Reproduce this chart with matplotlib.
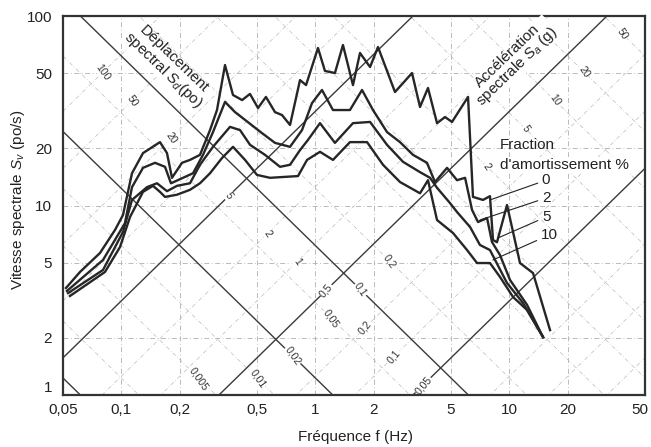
import numpy as np
import matplotlib
matplotlib.use("Agg")
import matplotlib.pyplot as plt
from matplotlib.transforms import ScaledTranslation

plt.rcParams['font.family'] = ['Liberation Sans', 'DejaVu Sans']
plt.rcParams['mathtext.fontset'] = 'custom'
plt.rcParams['mathtext.rm'] = 'Liberation Sans'
plt.rcParams['mathtext.it'] = 'Liberation Sans:italic'

# Spectral velocity curves (po/s), one per damping ratio.
freq_0 = [0.0518, 0.0612, 0.0776, 0.0927, 0.1019, 0.1134, 0.1292, 0.1581, 0.1718,
          0.1823, 0.2052, 0.2257, 0.2541, 0.2863, 0.311, 0.342, 0.376, 0.419, 0.460,
          0.506, 0.556, 0.619, 0.673, 0.740, 0.833, 0.895, 1.031, 1.120, 1.261, 1.387,
          1.562, 1.698, 1.913, 2.102, 2.572, 3.148, 3.461, 3.805, 4.236, 4.657, 5.06,
          6.12, 6.49, 7.31, 7.94, 8.23, 8.63, 9.72, 11.34, 13.24, 16.2]
sv_0 = [3.67, 4.46, 5.62, 7.43, 8.91, 14.8, 18.9, 21.6, 18.9,
        14.0, 16.8, 17.4, 18.5, 25.0, 31.9, 55.1, 38.3, 36.0, 38.8,
        32.7, 37.4, 31.1, 30.0, 26.6, 45.9, 43.2, 67.8, 51.3, 50.0, 70.3,
        43.2, 63.8, 53.8, 68.6, 39.7, 50.0, 33.1, 41.7, 27.2, 29.3, 27.6,
        37.4, 11.1, 10.7, 11.2, 6.58, 6.4, 10.06, 4.97, 4.40, 2.20]

freq_2 = [0.0524, 0.0804, 0.1043, 0.1134, 0.1292, 0.149, 0.1678, 0.1801, 0.2078,
          0.234, 0.2634, 0.2966, 0.342, 0.3852, 0.4338, 0.5306, 0.6192, 0.740, 0.853,
          0.9605, 1.081, 1.232, 1.507, 1.739, 1.981, 2.34, 2.73, 3.185, 3.76, 4.136,
          4.77, 5.37, 5.91, 6.42, 6.89, 7.67, 8.13, 8.94, 10.07, 12.33, 14.91]
sv_2 = [3.54, 5.16, 8.07, 12.5, 15.8, 16.8, 16.0, 13.1, 14.0,
        14.8, 18.5, 24.4, 35.2, 31.1, 28.3, 24.1, 21.4, 20.4, 25.0,
        34.7, 40.7, 31.9, 31.9, 40.7, 31.9, 24.4, 21.6, 18.5, 16.8, 13.3,
        15.8, 13.6, 14.0, 9.47, 8.18, 8.59, 6.42, 5.48, 4.05, 2.99, 2.02]

freq_5 = [0.0531, 0.0804, 0.1019, 0.1134, 0.1355, 0.1526, 0.1718, 0.1934, 0.2257,
          0.2541, 0.2966, 0.3629, 0.4088, 0.4604, 0.5499, 0.6571, 0.740, 0.8331,
          0.9161, 1.056, 1.261, 1.562, 1.913, 2.34, 2.829, 3.461, 3.898, 4.236, 4.94,
          5.37, 6.27, 7.05, 7.94, 9.72, 11.75, 14.91]
sv_5 = [3.45, 4.57, 7.25, 10.7, 12.5, 13.1, 11.9, 12.7, 13.1,
        16.4, 20.4, 26.0, 25.0, 20.9, 18.5, 16.0, 16.4, 19.6,
        22.2, 27.2, 21.4, 27.2, 27.6, 20.9, 17.0, 15.0, 14.0, 12.4, 10.3,
        9.24, 7.70, 6.19, 5.82, 3.90, 3.06, 2.02]

freq_10 = [0.0543, 0.0823, 0.0984, 0.1108, 0.1292, 0.1455, 0.1581, 0.1678, 0.1934,
           0.2257, 0.2541, 0.2863, 0.330, 0.3761, 0.4338, 0.500, 0.5835, 0.8135,
           0.9055, 1.056, 1.232, 1.507, 1.846, 2.231, 2.73, 3.461, 3.805, 4.236,
           5.12, 6.05, 6.81, 7.94, 8.94, 10.44, 12.33, 14.91]
sv_10 = [3.33, 4.46, 6.04, 8.70, 11.8, 12.7, 11.8, 11.1, 11.4,
         12.1, 13.1, 14.8, 17.8, 20.4, 17.4, 14.5, 14.0, 14.3,
         17.4, 19.2, 17.4, 21.6, 21.6, 16.4, 13.3, 11.6, 13.6, 8.38,
         7.16, 5.82, 4.97, 4.97, 4.20, 3.29, 2.81, 2.02]

damping_labels = ['0', '2', '5', '10']

# Axis ticks.
x_ticks = [0.05, 0.1, 0.2, 0.5, 1, 2, 5, 10, 20, 50]
x_tick_labels = ['0,05', '0,1', '0,2', '0,5', '1', '2', '5', '10', '20', '50']
y_ticks = [1, 2, 5, 10, 20, 50, 100]
y_tick_labels = ['1', '2', '5', '10', '20', '50', '100']

# Tripartite grid: displacement (po) and acceleration (g) lines.
sd_lines = [100, 50, 20, 10, 5, 2, 1, 0.5, 0.2, 0.1, 0.05, 0.02, 0.01, 0.005]
sd_bold = [5, 0.5, 0.05]
sa_lines = [0.001, 0.002, 0.005, 0.01, 0.02, 0.05, 0.1, 0.2, 0.5, 1, 2, 5,
            10, 20, 50]
sa_bold = [0.001, 0.02, 0.1]
sd_marked = [100, 50, 20, 5, 2, 1, 0.5, 0.2, 0.1, 0.05]
sa_marked = [0.005, 0.01, 0.02, 0.05, 0.1, 0.2, 2, 5, 10, 20, 50]

G = 386.1  # po/s^2
DASH = (0, (6, 3, 1, 3))


def comma(v):
    return f"{v:g}".replace('.', ',')


fig = plt.figure(figsize=(6.51, 4.47), dpi=100)
ax = fig.add_axes([63 / 651, 52 / 447, 582 / 651, 379 / 447])
ax.set_xscale('log')
ax.set_yscale('log')
ax.set_xlim(0.05, 50)
ax.set_ylim(1, 100)

# Background log grid.
for x in x_ticks[1:-1]:
    ax.axvline(x, color='#b0b0b0', lw=0.6, ls=DASH, zorder=1)
for y in y_ticks[1:-1]:
    ax.axhline(y, color='#b0b0b0', lw=0.6, ls=DASH, zorder=1)

f_line = np.logspace(np.log10(0.05), np.log10(50), 200)
for sd in sd_lines:
    v = 2 * np.pi * f_line * sd
    if sd in sd_bold:
        ax.plot(f_line, v, color='#3a3a3a', lw=1.0, zorder=1.5)
    else:
        ax.plot(f_line, v, color='#bdbdbd', lw=0.5, ls=DASH, zorder=1.2)
for sa in sa_lines:
    v = sa * G / (2 * np.pi * f_line)
    if sa in sa_bold:
        ax.plot(f_line, v, color='#3a3a3a', lw=1.0, zorder=1.5)
    else:
        ax.plot(f_line, v, color='#bdbdbd', lw=0.5, ls=DASH, zorder=1.2)

# Small value labels on the diagonals.
box = dict(facecolor='white', edgecolor='none', pad=0.4)
for sd in sd_marked:
    f = np.sqrt(0.066 * G / (4 * np.pi ** 2 * sd))
    v = 2 * np.pi * f * sd
    rot = -55 if sd >= 1 else 50
    ax.text(f, v, comma(sd), fontsize=7.5, color='#333333', rotation=rot,
            ha='center', va='center', bbox=box, zorder=2)
for sa in sa_marked:
    f = np.sqrt(sa * G / (4 * np.pi ** 2 * 0.335))
    v = 2 * np.pi * f * 0.335
    if v < 1.22:
        v = 1.22
        f = sa * G / (2 * np.pi * v)
    ax.text(f, v, comma(sa), fontsize=7.5, color='#333333', rotation=-55,
            ha='center', va='center', bbox=box, zorder=2)

# Response curves.
for fr, sv in [(freq_0, sv_0), (freq_2, sv_2), (freq_5, sv_5), (freq_10, sv_10)]:
    ax.plot(fr, sv, color='#262626', lw=1.7, zorder=3)

# Damping legend with leader lines.
label_pos = [(14.7, 13.6), (14.7, 10.96), (14.7, 8.70), (14.5, 6.99)]
pointer_end = [(7.94, 10.7), (7.05, 8.38), (8.73, 6.74), (8.23, 5.16)]
for lab, (xt, yt), (xe, ye) in zip(damping_labels, label_pos, pointer_end):
    ax.annotate(lab, xy=(xe, ye), xytext=(xt, yt), fontsize=11, color='#222222',
                ha='left', va='center', zorder=4,
                arrowprops=dict(arrowstyle='-', lw=0.8, color='#222222',
                                shrinkA=1, shrinkB=0))
ax.text(0.751, 0.66, "Fraction", transform=ax.transAxes, fontsize=11,
        color='#222222', ha='left', va='center', zorder=4)
ax.text(0.751, 0.607, "d'amortissement %", transform=ax.transAxes, fontsize=11,
        color='#222222', ha='left', va='center', zorder=4,
        bbox=dict(facecolor='white', edgecolor='none', pad=0.5))

ax.text(0.18, 0.871, "Déplacement\nspectral $S_d$(po)", transform=ax.transAxes,
        fontsize=11, color='#222222', rotation=-44, rotation_mode='anchor',
        ha='center', va='center', linespacing=0.95, zorder=4,
        bbox=dict(facecolor='white', edgecolor='none', pad=0.3))
ax.text(0.773, 0.879, "Accélération\nspectrale $S_a$ (g)", transform=ax.transAxes,
        fontsize=11, color='#222222', rotation=44, rotation_mode='anchor',
        ha='center', va='center', linespacing=0.95, zorder=4,
        bbox=dict(facecolor='white', edgecolor='none', pad=0.3))

ax.set_xticks(x_ticks)
ax.set_xticklabels(x_tick_labels)
ax.set_yticks(y_ticks)
ax.set_yticklabels(y_tick_labels)
ax.minorticks_off()
ax.tick_params(length=0, labelsize=11, colors='#222222')
ax.tick_params(axis='x', pad=6)
ax.tick_params(axis='y', pad=8)
# keep the corner labels apart and inside the canvas
ax.get_yticklabels()[0].set_verticalalignment('bottom')
last = ax.get_xticklabels()[-1]
last.set_transform(last.get_transform() + ScaledTranslation(-5 / 100, 0, fig.dpi_scale_trans))
for s in ax.spines.values():
    s.set_linewidth(1.6)
    s.set_color('#333333')

ax.set_xlabel("Fréquence f (Hz)", fontsize=11, color='#222222')
ax.xaxis.set_label_coords(0.502, -0.092)
ax.set_ylabel("Vitesse spectrale $S_v$ (po/s)", fontsize=11, color='#222222')
ax.yaxis.set_label_coords(-0.062, 0.515)

fig.savefig("out.png", dpi=100)
